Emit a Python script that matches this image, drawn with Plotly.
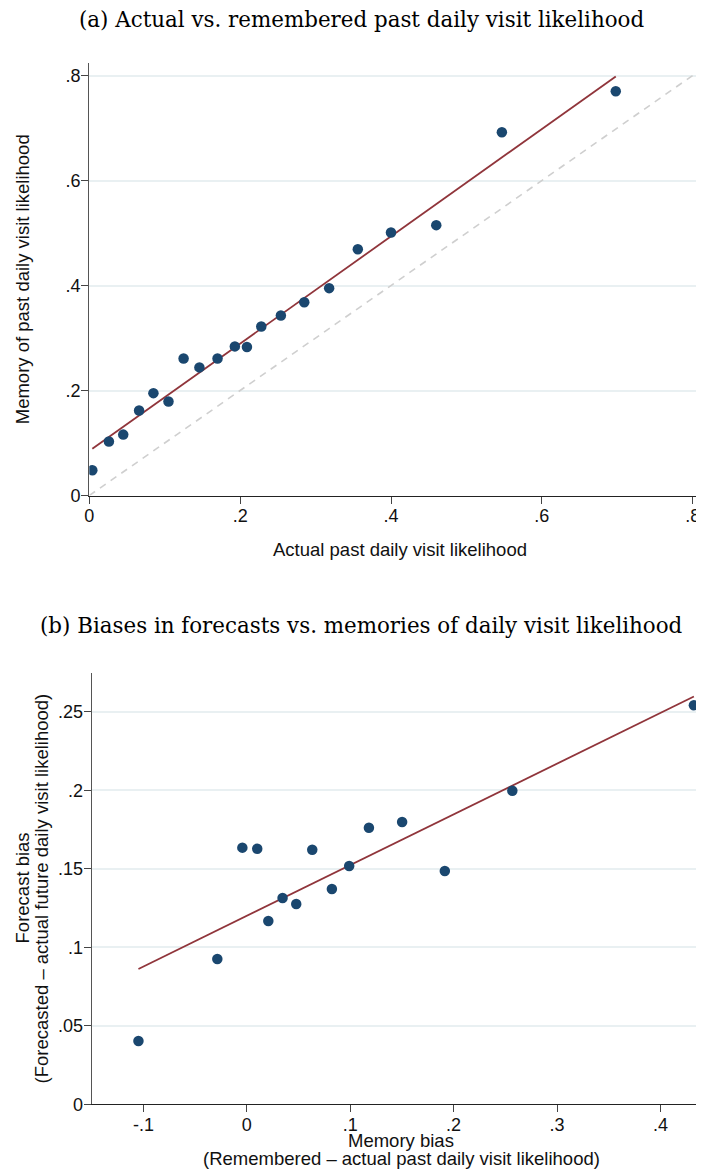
import plotly.graph_objects as go

# ---------------- Panel (a) data ----------------
actual_past = [0.004, 0.026, 0.045, 0.066, 0.085, 0.105, 0.125, 0.146, 0.170, 0.193,
               0.209, 0.228, 0.254, 0.285, 0.318, 0.356, 0.400, 0.460, 0.547, 0.698]
remembered_past = [0.048, 0.103, 0.116, 0.162, 0.195, 0.179, 0.261, 0.244, 0.261, 0.284,
                   0.283, 0.322, 0.343, 0.368, 0.395, 0.469, 0.501, 0.515, 0.692, 0.770]
fit_a_intercept = 0.085
fit_a_slope = 1.0216
diag_line = [0.0, 0.8]

a_xticks = [0, 0.2, 0.4, 0.6, 0.8]
a_xtext = ["0", ".2", ".4", ".6", ".8"]
a_yticks = [0, 0.2, 0.4, 0.6, 0.8]
a_ytext = ["0", ".2", ".4", ".6", ".8"]

# ---------------- Panel (b) data ----------------
memory_bias = [-0.1048, -0.0285, -0.0043, 0.0101, 0.0208, 0.0346, 0.0478, 0.0633,
               0.0823, 0.0990, 0.1181, 0.1502, 0.1915, 0.2568, 0.4324]
forecast_bias = [0.0403, 0.0925, 0.1634, 0.1627, 0.1167, 0.1313, 0.1275, 0.1621,
                 0.1371, 0.1517, 0.1761, 0.1797, 0.1485, 0.1997, 0.2541]
fit_b_intercept = 0.1200
fit_b_slope = 0.323

b_xticks = [-0.1, 0, 0.1, 0.2, 0.3, 0.4]
b_xtext = ["-.1", "0", ".1", ".2", ".3", ".4"]
b_yticks = [0, 0.05, 0.1, 0.15, 0.2, 0.25]
b_ytext = ["0", ".05", ".1", ".15", ".2", ".25"]

# ---------------- styling ----------------
PAGE_W, PAGE_H = 704, 1169
OFF = 8  # default page body margin
W, H = PAGE_W - OFF, PAGE_H - OFF
NAVY = "#1a476f"
MAROON = "#90353b"
GRID = "#e9f0f2"
SANS = "Liberation Sans, Arial, sans-serif"
SERIF = "DejaVu Serif, serif"


def px_x(px):
    return (px - OFF) / W


def py(px):
    return 1 - (px - OFF) / H


def fit_line(xs, b0, b1):
    x0, x1 = min(xs), max(xs)
    return [x0, x1], [b0 + b1 * x0, b0 + b1 * x1]


fig = go.Figure()

# Panel a
fig.add_trace(go.Scatter(x=diag_line, y=diag_line, mode="lines",
                         line=dict(color="#cfcfcf", width=1.6, dash="7px,6px"),
                         xaxis="x", yaxis="y", hoverinfo="skip"))
fx, fy = fit_line(actual_past, fit_a_intercept, fit_a_slope)
fig.add_trace(go.Scatter(x=fx, y=fy, mode="lines",
                         line=dict(color=MAROON, width=1.8), xaxis="x", yaxis="y"))
fig.add_trace(go.Scatter(x=actual_past, y=remembered_past, mode="markers",
                         marker=dict(color=NAVY, size=10.5), xaxis="x", yaxis="y"))

# Panel b
fx, fy = fit_line(memory_bias, fit_b_intercept, fit_b_slope)
fig.add_trace(go.Scatter(x=fx, y=fy, mode="lines",
                         line=dict(color=MAROON, width=1.8), xaxis="x2", yaxis="y2"))
fig.add_trace(go.Scatter(x=memory_bias, y=forecast_bias, mode="markers",
                         marker=dict(color=NAVY, size=10.5), xaxis="x2", yaxis="y2"))

tickfont = dict(family=SANS, size=18, color="#111")
common_x = dict(showgrid=False, zeroline=False, showline=True, linecolor="#222", linewidth=1.3,
                ticks="outside", ticklen=7, tickwidth=1.2, tickcolor="#444",
                tickfont=tickfont, fixedrange=True, automargin=False, ticklabelstandoff=-3)
common_y = dict(showgrid=True, gridcolor=GRID, gridwidth=1.5, zeroline=False, showline=True,
                linecolor="#555", linewidth=1.3, ticks="outside", ticklen=7, tickwidth=1.2,
                tickcolor="#444", tickfont=tickfont, fixedrange=True, automargin=False,
                ticklabelstandoff=-3)

a_left, a_bottom, a_top = 89.3, 495.5, 63.0
a_xscale = (692.7 - 89.3) / 0.8
a_yscale = 525.0
b_left, b_bottom, b_top = 91.7, 1104.2, 672.7
b_xscale = 1034.0
b_x0 = -0.15
b_yscale = 1570.0

fig.update_layout(
    width=W, height=H, margin=dict(l=0, r=0, t=0, b=0, autoexpand=False),
    paper_bgcolor="white", plot_bgcolor="white", showlegend=False,
    xaxis=dict(common_x, domain=[px_x(a_left), 1.0], range=[0, (PAGE_W - a_left) / a_xscale],
               tickvals=a_xticks, ticktext=a_xtext, anchor="y"),
    yaxis=dict(common_y, domain=[py(a_bottom), py(a_top)],
               range=[0, (a_bottom - a_top) / a_yscale],
               tickvals=a_yticks, ticktext=a_ytext, anchor="x"),
    xaxis2=dict(common_x, domain=[px_x(b_left), 1.0],
                range=[b_x0, b_x0 + (PAGE_W - b_left) / b_xscale],
                tickvals=b_xticks, ticktext=b_xtext, anchor="y2"),
    yaxis2=dict(common_y, domain=[py(b_bottom), py(b_top)],
                range=[0, (b_bottom - b_top) / b_yscale],
                tickvals=b_yticks, ticktext=b_ytext, anchor="x2"),
)

ann = []
titlefont = dict(family=SERIF, size=21.4, color="#000")
ann.append(dict(text="(a) Actual vs. remembered past daily visit likelihood",
                x=px_x(361), y=py(19), xref="paper", yref="paper", showarrow=False,
                font=titlefont, xanchor="center", yanchor="middle"))
ann.append(dict(text="(b) Biases in forecasts vs. memories of daily visit likelihood",
                x=px_x(361), y=py(625), xref="paper", yref="paper", showarrow=False,
                font=titlefont, xanchor="center", yanchor="middle"))
axfont = dict(family=SANS, size=18.5, color="#111")
ann.append(dict(text="Actual past daily visit likelihood", x=px_x(400), y=py(549),
                xref="paper", yref="paper", showarrow=False, font=axfont,
                xanchor="center", yanchor="middle"))
ann.append(dict(text="Memory of past daily visit likelihood", x=px_x(22),
                y=py((a_top + a_bottom) / 2), xref="paper", yref="paper", showarrow=False,
                font=axfont, textangle=-90, xanchor="center", yanchor="middle"))
ann.append(dict(text="Memory bias",
                x=px_x(401), y=py(1140), xref="paper", yref="paper", showarrow=False,
                font=axfont, xanchor="center", yanchor="middle"))
ann.append(dict(text="(Remembered – actual past daily visit likelihood)",
                x=px_x(401), y=py(1158), xref="paper", yref="paper", showarrow=False,
                font=axfont, xanchor="center", yanchor="middle"))
ann.append(dict(text="Forecast bias", x=px_x(22), y=py((b_top + b_bottom) / 2),
                xref="paper", yref="paper", showarrow=False, font=axfont, textangle=-90,
                xanchor="center", yanchor="middle"))
ann.append(dict(text="(Forecasted – actual future daily visit likelihood)", x=px_x(41),
                y=py((b_top + b_bottom) / 2), xref="paper", yref="paper", showarrow=False,
                font=axfont, textangle=-90, xanchor="center", yanchor="middle"))
fig.update_layout(annotations=ann)

fig.write_html("out.html")
